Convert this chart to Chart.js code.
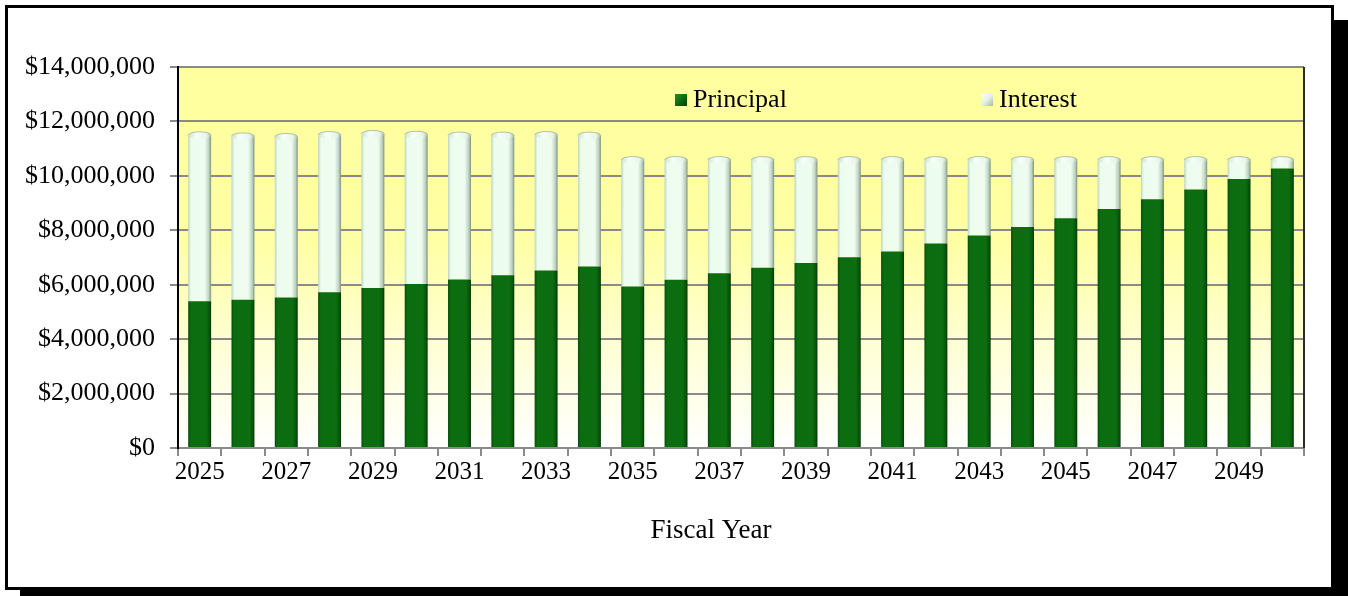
<!DOCTYPE html>
<html>
<head>
<meta charset="utf-8">
<title>Debt Service</title>
<script src="https://cdn.jsdelivr.net/npm/chart.js@4"></script>
<style>
  html, body { margin: 0; padding: 0; background: #fff; overflow: hidden; }
  .frame {
    position: absolute; left: 5px; top: 5px;
    width: 1323px; height: 579px;
    border: 3px solid #000;
    box-shadow: 15px 15px 0 #000;
    background: #fff;
  }
  #chart { position: absolute; left: 0; top: 0; }
</style>
</head>
<body>
<div class="frame"></div>
<canvas id="chart" width="1348" height="596"></canvas>
<script>
// fiscal years
const years = ['2025', '2026', '2027', '2028', '2029', '2030', '2031', '2032', '2033', '2034',
  '2035', '2036', '2037', '2038', '2039', '2040', '2041', '2042', '2043', '2044',
  '2045', '2046', '2047', '2048', '2049', '2050'];

// principal payments ($)
const principal = [5390000, 5450000, 5530000, 5720000, 5880000, 6030000, 6190000, 6350000, 6520000, 6670000,
  5930000, 6180000, 6420000, 6620000, 6800000, 7010000, 7220000, 7510000, 7810000, 8120000,
  8440000, 8780000, 9140000, 9500000, 9880000, 10270000];

// interest payments ($)
const interest = [6100000, 6000000, 5900000, 5780000, 5660000, 5480000, 5290000, 5130000, 4980000, 4810000,
  4650000, 4400000, 4160000, 3960000, 3780000, 3570000, 3360000, 3070000, 2770000, 2460000,
  2140000, 1800000, 1440000, 1080000, 700000, 310000];

const valueTicks = ['$0', '$2,000,000', '$4,000,000', '$6,000,000', '$8,000,000',
  '$10,000,000', '$12,000,000', '$14,000,000'];

const axisTitle = 'Fiscal Year';

const FONT = "'Liberation Serif', 'Times New Roman', serif";
const BAR_PCT = 0.53;
const GRID = '#8a8a8a';

// horizontal shading so each bar looks like a cylinder
function cylinderFill(stops, flat) {
  return (c) => {
    const xs = c.chart.scales.x;
    if (c.type !== 'data' || !xs || !xs.width) return flat;
    const cx = xs.getPixelForValue(c.dataIndex);
    const w = xs.width / years.length * BAR_PCT;
    const g = c.chart.ctx.createLinearGradient(cx - w / 2, 0, cx + w / 2, 0);
    stops.forEach(([o, col]) => g.addColorStop(o, col));
    return g;
  };
}

const principalStops = [[0, '#06500a'], [0.12, '#0b6c10'], [0.78, '#0c6e10'], [0.93, '#075408'], [1, '#03330a']];
const interestStops = [[0, '#bcd3be'], [0.12, '#ecfcef'], [0.72, '#eefdf0'], [0.9, '#bfd2c0'], [1, '#7f917f']];

// plot background: yellow fading to white toward the bottom
const plotBackground = {
  id: 'plotBackground',
  beforeDraw(chart) {
    const { ctx, chartArea: a } = chart;
    const g = ctx.createLinearGradient(0, a.top, 0, a.bottom);
    g.addColorStop(0, '#ffff9f');
    g.addColorStop(0.45, '#ffffa3');
    g.addColorStop(0.74, '#ffffd6');
    g.addColorStop(1, '#ffffff');
    ctx.save();
    ctx.fillStyle = g;
    ctx.fillRect(a.left, a.top, a.right - a.left, a.bottom - a.top);
    ctx.restore();
  },
  afterDraw(chart) {
    const { ctx, chartArea: a } = chart;
    ctx.save();
    ctx.strokeStyle = '#2a2a2a';
    ctx.lineWidth = 2;
    ctx.beginPath();
    ctx.moveTo(a.right, a.top);
    ctx.lineTo(a.right, a.bottom);
    ctx.stroke();
    // axis title sits a little left of the plot centre
    ctx.font = '27px ' + FONT;
    ctx.fillStyle = '#000';
    ctx.textAlign = 'center';
    ctx.textBaseline = 'middle';
    ctx.fillText(axisTitle, (a.left + a.right) / 2 - 30, a.bottom + 83);
    ctx.restore();
  }
};

// rounded tops on the stacked columns
const barCaps = {
  id: 'barCaps',
  afterDatasetsDraw(chart) {
    const { ctx } = chart;
    const meta = chart.getDatasetMeta(1);
    ctx.save();
    meta.data.forEach((bar) => {
      const { x, y, width } = bar.getProps(['x', 'y', 'width'], true);
      const rx = width / 2, ry = 3.5;
      const g = ctx.createLinearGradient(x - rx, 0, x + rx, 0);
      g.addColorStop(0, '#cfe0d0');
      g.addColorStop(0.35, '#f7fff8');
      g.addColorStop(0.8, '#e6f4e7');
      g.addColorStop(1, '#a9bca9');
      ctx.fillStyle = g;
      ctx.beginPath();
      ctx.ellipse(x, y, rx, ry, 0, 0, Math.PI * 2);
      ctx.fill();
      ctx.strokeStyle = 'rgba(150,170,150,0.7)';
      ctx.lineWidth = 1;
      ctx.beginPath();
      ctx.ellipse(x, y, rx, ry, 0, Math.PI, Math.PI * 2);
      ctx.stroke();
    });
    ctx.restore();
  }
};

// legend drawn inside the plot area
const innerLegend = {
  id: 'innerLegend',
  afterDraw(chart) {
    const { ctx, chartArea: a } = chart;
    const spots = [a.left + 497, a.left + 803];
    const y = a.top + 33;
    ctx.save();
    ctx.font = '26px ' + FONT;
    ctx.textBaseline = 'middle';
    chart.data.datasets.forEach((ds, i) => {
      const bx = spots[i], by = y - 6, s = 12;
      const g = ctx.createLinearGradient(bx, by, bx + s, by + s);
      if (i === 0) {
        g.addColorStop(0, '#2f8a2f'); g.addColorStop(0.5, '#0b6c10'); g.addColorStop(1, '#03400a');
      } else {
        g.addColorStop(0, '#ffffff'); g.addColorStop(0.5, '#e4f2e4'); g.addColorStop(1, '#a6b6a6');
      }
      ctx.fillStyle = g;
      ctx.fillRect(bx, by, s, s);
      ctx.fillStyle = '#000';
      ctx.fillText(ds.label, bx + s + 6, y);
    });
    ctx.restore();
  }
};

new Chart(document.getElementById('chart'), {
  type: 'bar',
  data: {
    labels: years,
    datasets: [
      {
        label: 'Principal',
        data: principal,
        backgroundColor: cylinderFill(principalStops, '#0b6c10'),
        borderWidth: 0,
        barPercentage: BAR_PCT,
        categoryPercentage: 1
      },
      {
        label: 'Interest',
        data: interest,
        backgroundColor: cylinderFill(interestStops, '#eefdf0'),
        borderWidth: 0,
        barPercentage: BAR_PCT,
        categoryPercentage: 1
      }
    ]
  },
  options: {
    responsive: false,
    animation: false,
    layout: { padding: { top: 67, right: 44, left: 0, bottom: 0 } },
    plugins: {
      legend: { display: false },
      tooltip: { enabled: false }
    },
    scales: {
      x: {
        stacked: true,
        afterFit(scale) { scale.height = 148; },
        grid: {
          offset: true,
          drawOnChartArea: false,
          drawTicks: true,
          tickLength: 8,
          color: GRID,
          lineWidth: 2
        },
        border: { color: GRID, width: 2 },
        ticks: {
          autoSkip: false,
          maxRotation: 0,
          padding: 1,
          color: '#000',
          font: { family: FONT, size: 25 },
          callback: (v, i) => (i % 2 === 0 ? years[i] : '')
        }
      },
      y: {
        stacked: true,
        min: 0,
        max: 14000000,
        afterFit(scale) { scale.width = 178; },
        grid: {
          color: GRID,
          lineWidth: 2,
          tickLength: 8
        },
        border: { color: '#000', width: 2 },
        ticks: {
          stepSize: 2000000,
          padding: 15,
          color: '#000',
          font: { family: FONT, size: 26 },
          callback: (v, i) => valueTicks[i]
        }
      }
    }
  },
  plugins: [plotBackground, barCaps, innerLegend]
});
</script>
</body>
</html>
